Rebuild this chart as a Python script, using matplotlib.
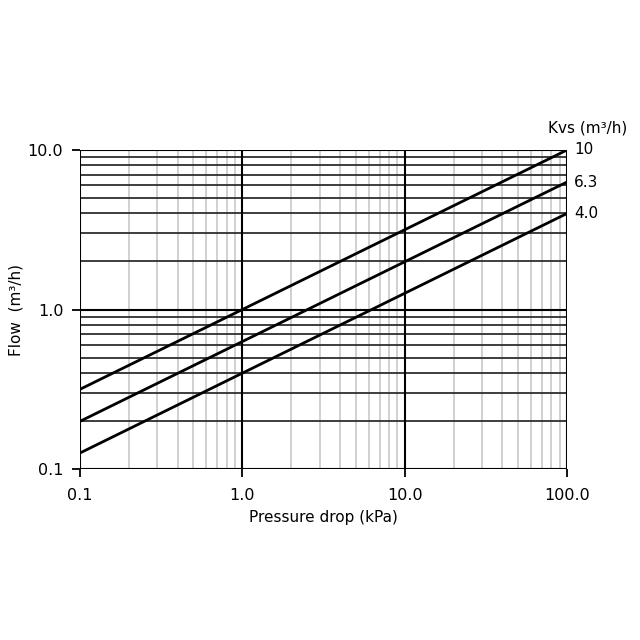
import matplotlib
matplotlib.use("Agg")
import matplotlib.pyplot as plt
from matplotlib.ticker import FixedLocator

# Data: end points of each straight line (log-log)
dp_ends = [0.1, 100.0]
kvs_labels = ["10", "6.3", "4.0"]
flow_kvs10 = [0.316, 10.0]
flow_kvs63 = [0.199, 6.3]
flow_kvs40 = [0.126, 4.0]
series = [flow_kvs10, flow_kvs63, flow_kvs40]

x_ticks = [0.1, 1.0, 10.0, 100.0]
x_ticklabels = ["0.1", "1.0", "10.0", "100.0"]
y_ticks = [0.1, 1.0, 10.0]
y_ticklabels = ["0.1", "1.0", "10.0"]

plt.rcParams['font.family'] = ['DejaVu Sans']
fig = plt.figure(figsize=(6.4, 6.4), dpi=100)
ax = fig.add_axes([80/640, 1-469/640, (567-80)/640, (469-150)/640])
ax.set_xscale('log')
ax.set_yscale('log')
ax.set_xlim(0.1, 100)
ax.set_ylim(0.1, 10)

# grid
minors = [m for d in (0.1, 1, 10) for m in [d*k for k in range(2, 10)]]
for v in minors:
    ax.axvline(v, color='#c5cacd', lw=1.2, zorder=1)
ymin = [m for d in (0.1, 1) for m in [d*k for k in range(2, 10)]]
for v in ymin:
    ax.axhline(v, color='#2e2e2e', lw=1.3, zorder=2)
for v in x_ticks:
    ax.axvline(v, color='black', lw=1.5, zorder=3)
for v in y_ticks:
    ax.axhline(v, color='black', lw=1.5, zorder=3)

for ys in series:
    ax.plot(dp_ends, ys, color='black', lw=2.0, zorder=4, solid_capstyle='butt')

for lab, ys in zip(kvs_labels, series):
    ax.annotate(lab, xy=(dp_ends[-1], ys[-1]), xytext=(5, 0), textcoords='offset points',
                ha='left', va='center', fontsize=11, annotation_clip=False)
ax.text(627/640, 1-128/640, "Kvs (m³/h)", transform=fig.transFigure, ha='right', va='center', fontsize=11)

for s in ax.spines.values():
    s.set_visible(False)

ax.xaxis.set_major_locator(FixedLocator(x_ticks))
ax.yaxis.set_major_locator(FixedLocator(y_ticks))
ax.xaxis.set_minor_locator(FixedLocator([]))
ax.yaxis.set_minor_locator(FixedLocator([]))
ax.set_xticklabels(x_ticklabels)
ax.set_yticklabels(y_ticklabels)
ax.tick_params(axis='both', which='major', direction='out', length=6, width=1.3, labelsize=11.5, colors='black')
ax.tick_params(axis='x', pad=8)
ax.tick_params(axis='y', pad=6)

ax.set_xlabel("Pressure drop (kPa)", fontsize=11, labelpad=5)
ax.set_ylabel("Flow  (m³/h)", fontsize=11, labelpad=3)

fig.savefig("out.png", dpi=100)
